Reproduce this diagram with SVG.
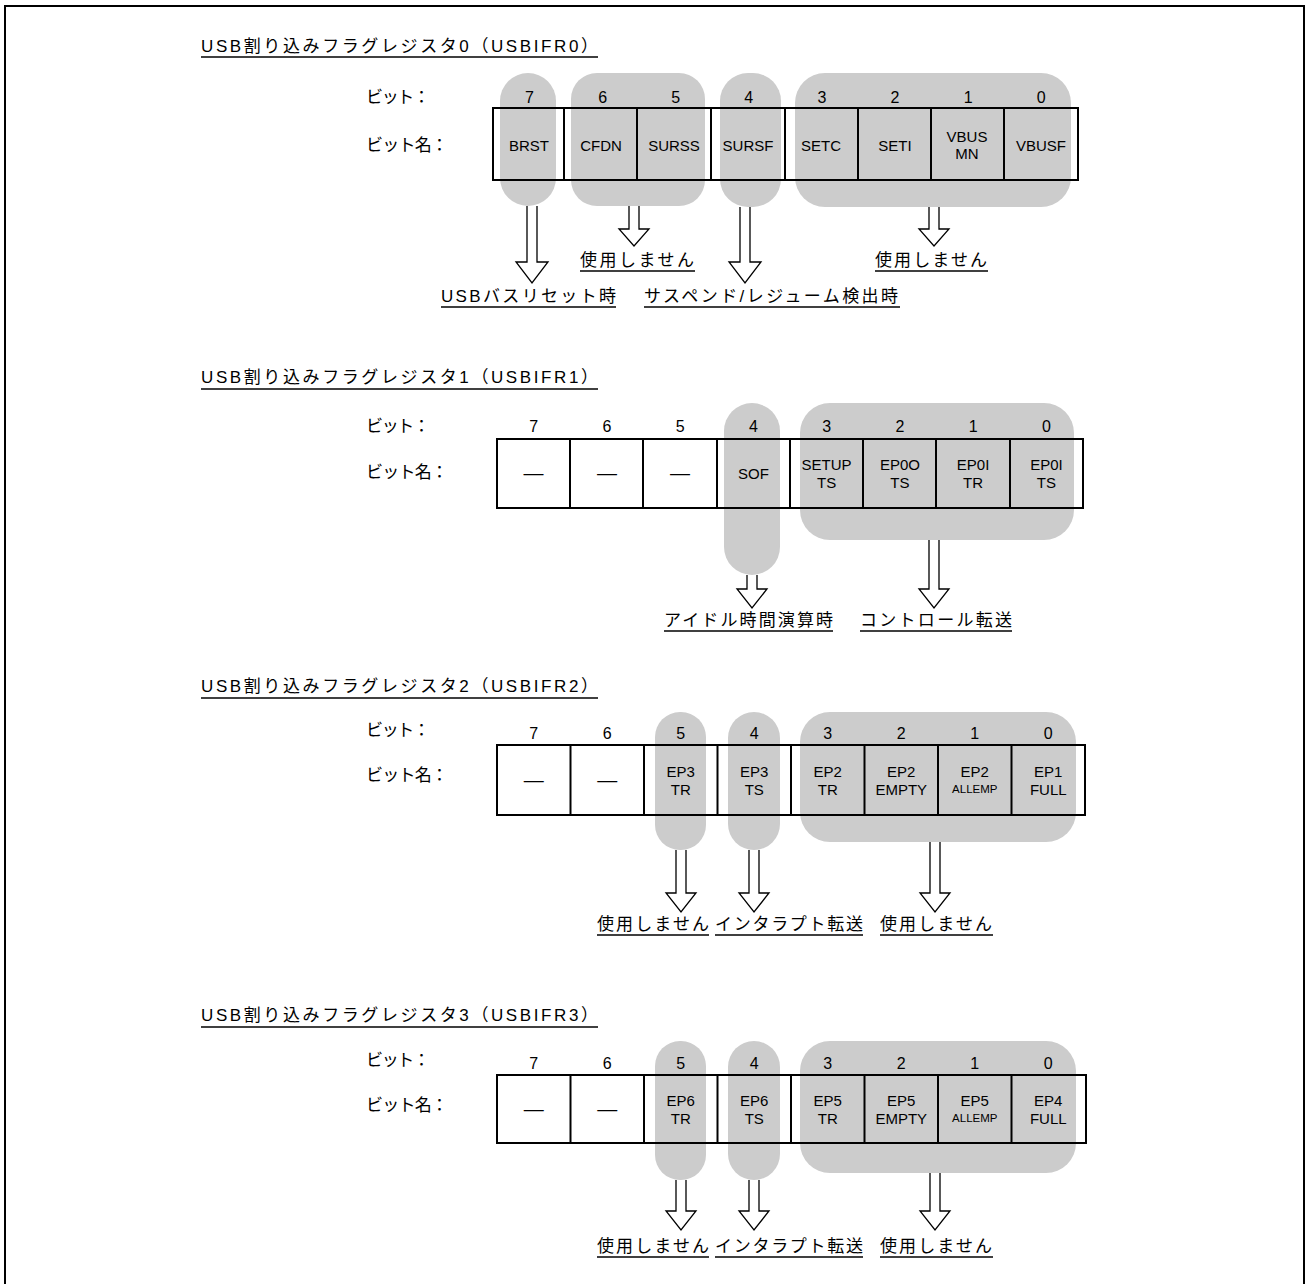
<svg xmlns="http://www.w3.org/2000/svg" width="1306" height="1284" viewBox="0 0 1306 1284">
<style>
text{font-family:'Liberation Sans','Noto Sans CJK JP',sans-serif;fill:#000}
.t{font-size:17px}
.lb{font-size:17px}
.n{font-size:16px;text-anchor:middle}
.c{font-size:15px;text-anchor:middle}
.s{font-size:11.5px;text-anchor:middle}
.d{font-size:20px;text-anchor:middle}
.j{font-size:17px}
.pill{fill:#cccccc}
.box{fill:none;stroke:#000;stroke-width:2}
.ul{stroke:#000;stroke-width:1.5}
.arr{fill:#fff;stroke:#000;stroke-width:1.3}
</style>
<rect x="5" y="6" width="1299" height="1290" fill="none" stroke="#000" stroke-width="2"/>

<!-- connectors: hollow arrows -->
<g id="connectors">
<path class="arr" d="M527,206 V262 H516 L532,283 L548,262 H537 V206"/>
<path class="arr" d="M629,206 V229 H619 L634,246 L649,229 H639 V206"/>
<path class="arr" d="M740,207 V262 H729 L745,283 L761,262 H750 V207"/>
<path class="arr" d="M929,207 V229 H919 L934,246 L949,229 H939 V207"/>

<path class="arr" d="M747,575 V589 H737 L752,608 L767,589 H757 V575"/>
<path class="arr" d="M929,540 V589 H919 L934,608 L949,589 H939 V540"/>

<path class="arr" d="M676,850 V893 H666 L681,912 L696,893 H686 V850"/>
<path class="arr" d="M749,850 V893 H739 L754,912 L769,893 H759 V850"/>
<path class="arr" d="M930,842 V893 H920 L935,912 L950,893 H940 V842"/>

<path class="arr" d="M676,1180 V1211 H666 L681,1230 L696,1211 H686 V1180"/>
<path class="arr" d="M749,1180 V1211 H739 L754,1230 L769,1211 H759 V1180"/>
<path class="arr" d="M930,1173 V1211 H920 L935,1230 L950,1211 H940 V1173"/>
</g>

<!-- Register 0 -->
<g id="reg0">
<text class="t" x="201" y="52" textLength="397" lengthAdjust="spacing">USB割り込みフラグレジスタ0（USBIFR0）</text>
<line class="ul" x1="201" y1="57" x2="598" y2="57"/>
<text class="lb" x="366" y="103" textLength="64" lengthAdjust="spacing">ビット：</text>
<text class="lb" x="366" y="151" textLength="82" lengthAdjust="spacing">ビット名：</text>
<rect class="pill" x="500" y="73" width="56" height="133" rx="28"/>
<rect class="pill" x="571" y="73" width="134" height="133" rx="26"/>
<rect class="pill" x="720" y="73" width="61" height="134" rx="28"/>
<rect class="pill" x="795" y="73" width="276" height="134" rx="30"/>
<text class="n" x="529.5" y="103">7</text>
<text class="n" x="602.6" y="103">6</text>
<text class="n" x="675.7" y="103">5</text>
<text class="n" x="748.8" y="103">4</text>
<text class="n" x="821.9" y="103">3</text>
<text class="n" x="895" y="103">2</text>
<text class="n" x="968.1" y="103">1</text>
<text class="n" x="1041.2" y="103">0</text>
<rect class="box" x="493" y="108" width="585" height="72"/>
<line class="box" x1="564" y1="108" x2="564" y2="180"/>
<line class="box" x1="637" y1="108" x2="637" y2="180"/>
<line class="box" x1="711" y1="108" x2="711" y2="180"/>
<line class="box" x1="785" y1="108" x2="785" y2="180"/>
<line class="box" x1="858" y1="108" x2="858" y2="180"/>
<line class="box" x1="931" y1="108" x2="931" y2="180"/>
<line class="box" x1="1004" y1="108" x2="1004" y2="180"/>
<text class="c" x="529" y="151">BRST</text>
<text class="c" x="601" y="151">CFDN</text>
<text class="c" x="674" y="151">SURSS</text>
<text class="c" x="748" y="151">SURSF</text>
<text class="c" x="821" y="151">SETC</text>
<text class="c" x="895" y="151">SETI</text>
<text class="c" x="967" y="142">VBUS</text>
<text class="c" x="967" y="159">MN</text>
<text class="c" x="1041" y="151">VBUSF</text>
<text class="j" x="441" y="302" textLength="175" lengthAdjust="spacing">USBバスリセット時</text>
<line class="ul" x1="441" y1="307" x2="616" y2="307"/>
<text class="j" x="580" y="266" textLength="114" lengthAdjust="spacing">使用しません</text>
<line class="ul" x1="580" y1="271" x2="695" y2="271"/>
<text class="j" x="644" y="302" textLength="254" lengthAdjust="spacing">サスペンド/レジューム検出時</text>
<line class="ul" x1="644" y1="307" x2="900" y2="307"/>
<text class="j" x="875" y="266" textLength="112" lengthAdjust="spacing">使用しません</text>
<line class="ul" x1="875" y1="271" x2="988" y2="271"/>
</g>

<!-- Register 1 -->
<g id="reg1">
<text class="t" x="201" y="383" textLength="397" lengthAdjust="spacing">USB割り込みフラグレジスタ1（USBIFR1）</text>
<line class="ul" x1="201" y1="389" x2="598" y2="389"/>
<text class="lb" x="366" y="432" textLength="64" lengthAdjust="spacing">ビット：</text>
<text class="lb" x="366" y="478" textLength="82" lengthAdjust="spacing">ビット名：</text>
<rect class="pill" x="724" y="403" width="56" height="172" rx="28"/>
<rect class="pill" x="800" y="403" width="274" height="137" rx="30"/>
<text class="n" x="533.6" y="432">7</text>
<text class="n" x="606.9" y="432">6</text>
<text class="n" x="680.1" y="432">5</text>
<text class="n" x="753.4" y="432">4</text>
<text class="n" x="826.6" y="432">3</text>
<text class="n" x="899.9" y="432">2</text>
<text class="n" x="973.1" y="432">1</text>
<text class="n" x="1046.4" y="432">0</text>
<rect class="box" x="497" y="439" width="586" height="69"/>
<line class="box" x1="570" y1="439" x2="570" y2="508"/>
<line class="box" x1="643" y1="439" x2="643" y2="508"/>
<line class="box" x1="717" y1="439" x2="717" y2="508"/>
<line class="box" x1="790" y1="439" x2="790" y2="508"/>
<line class="box" x1="863" y1="439" x2="863" y2="508"/>
<line class="box" x1="936" y1="439" x2="936" y2="508"/>
<line class="box" x1="1010" y1="439" x2="1010" y2="508"/>
<text class="d" x="533.6" y="480">—</text>
<text class="d" x="606.9" y="480">—</text>
<text class="d" x="680.1" y="480">—</text>
<text class="c" x="753.4" y="479">SOF</text>
<text class="c" x="826.6" y="470">SETUP</text>
<text class="c" x="826.6" y="488">TS</text>
<text class="c" x="899.9" y="470">EP0O</text>
<text class="c" x="899.9" y="488">TS</text>
<text class="c" x="973.1" y="470">EP0I</text>
<text class="c" x="973.1" y="488">TR</text>
<text class="c" x="1046.4" y="470">EP0I</text>
<text class="c" x="1046.4" y="488">TS</text>
<text class="j" x="664" y="626" textLength="169" lengthAdjust="spacing">アイドル時間演算時</text>
<line class="ul" x1="664" y1="631" x2="833" y2="631"/>
<text class="j" x="860" y="626" textLength="152" lengthAdjust="spacing">コントロール転送</text>
<line class="ul" x1="860" y1="631" x2="1012" y2="631"/>
</g>

<!-- Register 2 -->
<g id="reg2">
<text class="t" x="201" y="692" textLength="397" lengthAdjust="spacing">USB割り込みフラグレジスタ2（USBIFR2）</text>
<line class="ul" x1="201" y1="698" x2="598" y2="698"/>
<text class="lb" x="366" y="736" textLength="64" lengthAdjust="spacing">ビット：</text>
<text class="lb" x="366" y="781" textLength="82" lengthAdjust="spacing">ビット名：</text>
<rect class="pill" x="655" y="712" width="51" height="138" rx="25"/>
<rect class="pill" x="728" y="712" width="52" height="138" rx="26"/>
<rect class="pill" x="800" y="712" width="276" height="130" rx="30"/>
<text class="n" x="533.8" y="739">7</text>
<text class="n" x="607.3" y="739">6</text>
<text class="n" x="680.8" y="739">5</text>
<text class="n" x="754.3" y="739">4</text>
<text class="n" x="827.8" y="739">3</text>
<text class="n" x="901.3" y="739">2</text>
<text class="n" x="974.8" y="739">1</text>
<text class="n" x="1048.3" y="739">0</text>
<rect class="box" x="497" y="745" width="588" height="70"/>
<line class="box" x1="570.5" y1="745" x2="570.5" y2="815"/>
<line class="box" x1="644" y1="745" x2="644" y2="815"/>
<line class="box" x1="717.5" y1="745" x2="717.5" y2="815"/>
<line class="box" x1="791" y1="745" x2="791" y2="815"/>
<line class="box" x1="864.5" y1="745" x2="864.5" y2="815"/>
<line class="box" x1="938" y1="745" x2="938" y2="815"/>
<line class="box" x1="1011.5" y1="745" x2="1011.5" y2="815"/>
<text class="d" x="533.8" y="787">—</text>
<text class="d" x="607.3" y="787">—</text>
<text class="c" x="680.8" y="777">EP3</text>
<text class="c" x="680.8" y="795">TR</text>
<text class="c" x="754.3" y="777">EP3</text>
<text class="c" x="754.3" y="795">TS</text>
<text class="c" x="827.8" y="777">EP2</text>
<text class="c" x="827.8" y="795">TR</text>
<text class="c" x="901.3" y="777">EP2</text>
<text class="c" x="901.3" y="795">EMPTY</text>
<text class="c" x="974.8" y="777">EP2</text>
<text class="s" x="974.8" y="793">ALLEMP</text>
<text class="c" x="1048.3" y="777">EP1</text>
<text class="c" x="1048.3" y="795">FULL</text>
<text class="j" x="597" y="930" textLength="112" lengthAdjust="spacing">使用しません</text>
<line class="ul" x1="597" y1="935" x2="709" y2="935"/>
<text class="j" x="715" y="930" textLength="148" lengthAdjust="spacing">インタラプト転送</text>
<line class="ul" x1="715" y1="935" x2="863" y2="935"/>
<text class="j" x="880" y="930" textLength="112" lengthAdjust="spacing">使用しません</text>
<line class="ul" x1="880" y1="935" x2="993" y2="935"/>
</g>

<!-- Register 3 -->
<g id="reg3">
<text class="t" x="201" y="1021" textLength="397" lengthAdjust="spacing">USB割り込みフラグレジスタ3（USBIFR3）</text>
<line class="ul" x1="201" y1="1027" x2="598" y2="1027"/>
<text class="lb" x="366" y="1066" textLength="64" lengthAdjust="spacing">ビット：</text>
<text class="lb" x="366" y="1111" textLength="82" lengthAdjust="spacing">ビット名：</text>
<rect class="pill" x="655" y="1041" width="51" height="139" rx="25"/>
<rect class="pill" x="728" y="1041" width="52" height="139" rx="26"/>
<rect class="pill" x="800" y="1041" width="276" height="132" rx="30"/>
<text class="n" x="533.8" y="1069">7</text>
<text class="n" x="607.3" y="1069">6</text>
<text class="n" x="680.8" y="1069">5</text>
<text class="n" x="754.3" y="1069">4</text>
<text class="n" x="827.8" y="1069">3</text>
<text class="n" x="901.3" y="1069">2</text>
<text class="n" x="974.8" y="1069">1</text>
<text class="n" x="1048.3" y="1069">0</text>
<rect class="box" x="497" y="1075" width="589" height="68"/>
<line class="box" x1="570.5" y1="1075" x2="570.5" y2="1143"/>
<line class="box" x1="644" y1="1075" x2="644" y2="1143"/>
<line class="box" x1="717.5" y1="1075" x2="717.5" y2="1143"/>
<line class="box" x1="791" y1="1075" x2="791" y2="1143"/>
<line class="box" x1="864.5" y1="1075" x2="864.5" y2="1143"/>
<line class="box" x1="938" y1="1075" x2="938" y2="1143"/>
<line class="box" x1="1011.5" y1="1075" x2="1011.5" y2="1143"/>
<text class="d" x="533.8" y="1116">—</text>
<text class="d" x="607.3" y="1116">—</text>
<text class="c" x="680.8" y="1106">EP6</text>
<text class="c" x="680.8" y="1124">TR</text>
<text class="c" x="754.3" y="1106">EP6</text>
<text class="c" x="754.3" y="1124">TS</text>
<text class="c" x="827.8" y="1106">EP5</text>
<text class="c" x="827.8" y="1124">TR</text>
<text class="c" x="901.3" y="1106">EP5</text>
<text class="c" x="901.3" y="1124">EMPTY</text>
<text class="c" x="974.8" y="1106">EP5</text>
<text class="s" x="974.8" y="1122">ALLEMP</text>
<text class="c" x="1048.3" y="1106">EP4</text>
<text class="c" x="1048.3" y="1124">FULL</text>
<text class="j" x="597" y="1252" textLength="112" lengthAdjust="spacing">使用しません</text>
<line class="ul" x1="597" y1="1257" x2="709" y2="1257"/>
<text class="j" x="715" y="1252" textLength="148" lengthAdjust="spacing">インタラプト転送</text>
<line class="ul" x1="715" y1="1257" x2="863" y2="1257"/>
<text class="j" x="880" y="1252" textLength="112" lengthAdjust="spacing">使用しません</text>
<line class="ul" x1="880" y1="1257" x2="993" y2="1257"/>
</g>
</svg>
